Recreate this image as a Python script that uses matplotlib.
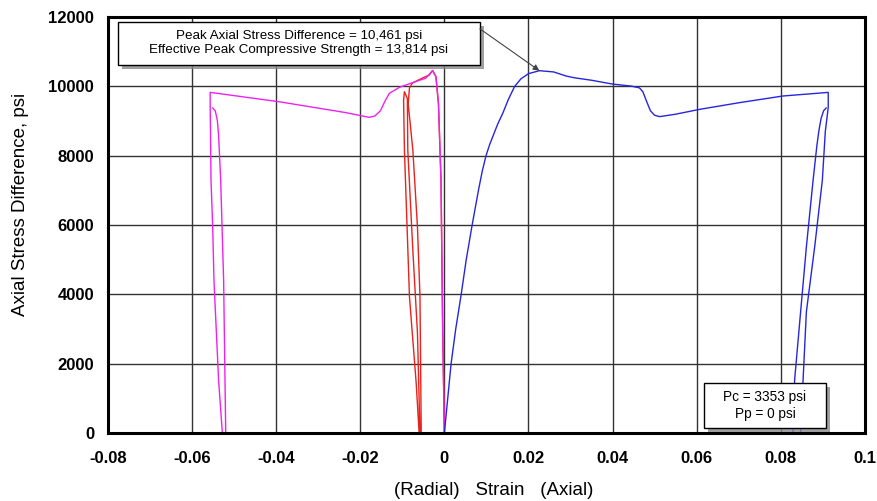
import matplotlib
matplotlib.use("Agg")
import matplotlib.pyplot as plt
import matplotlib.patheffects as pe
from matplotlib.patches import Rectangle

plt.rcParams['font.family'] = ['Liberation Sans', 'DejaVu Sans']

# axial strain (blue): load, plateau, unload/reload loop at the end
axial_strain = [0.0, 0.0008, 0.0016, 0.0027, 0.004, 0.0052, 0.0066, 0.0081, 0.0090,
                0.0099, 0.0107, 0.0115, 0.0127, 0.0139, 0.0152, 0.0167, 0.0182, 0.0200,
                0.0226, 0.026, 0.029, 0.031, 0.035, 0.040, 0.0445, 0.0464, 0.0472,
                0.0480, 0.0490, 0.0500, 0.0512, 0.055, 0.0607, 0.070, 0.0805, 0.0913,
                0.0913, 0.0906, 0.0899, 0.0881, 0.0861, 0.0847, 0.0770, 0.0829,
                0.0833, 0.0847, 0.0861, 0.0877, 0.0886, 0.0891, 0.0896, 0.0902, 0.0908]
axial_stress = [0, 1000, 2000, 3000, 4000, 5000, 6000, 7000, 7550,
                8000, 8300, 8550, 8920, 9230, 9620, 10000, 10220, 10370,
                10456, 10420, 10300, 10250, 10180, 10070, 10010, 9960, 9850,
                9600, 9300, 9170, 9130, 9200, 9340, 9530, 9725, 9830,
                9400, 8700, 7300, 5400, 3500, 0, 0, 0,
                1530, 3460, 5375, 7300, 8300, 8745, 9080, 9300, 9380]

# radial strain gauge 1 (magenta)
radial1_strain = [0.0, -0.0004, -0.0008, -0.0014, -0.002, -0.0028,
                  -0.0044, -0.0076, -0.0107, -0.0131, -0.0142, -0.0152, -0.0165, -0.0179,
                  -0.0234, -0.0393, -0.0557,
                  -0.0557, -0.0555, -0.0551, -0.0548, -0.0537, -0.0528, -0.052,
                  -0.0525, -0.0532, -0.0537, -0.0540, -0.0545, -0.0551]
radial1_stress = [0, 3000, 7300, 9500, 10280, 10461,
                  10240, 10110, 9975, 9800, 9560, 9300, 9150, 9110,
                  9245, 9560, 9830,
                  9500, 7300, 5955, 4415, 1530, 0, 0,
                  4415, 7300, 8600, 9030, 9300, 9380]

# radial strain gauge 2 (red)
radial2_strain = [0.0, -0.0004, -0.0008, -0.0014, -0.002, -0.0028,
                  -0.0036, -0.0052, -0.0076, -0.0083, -0.0086, -0.0075, -0.0064,
                  -0.0058, -0.0055, -0.006, -0.0067, -0.0083, -0.0095, -0.0097,
                  -0.0095, -0.0088, -0.0087, -0.0075, -0.0064, -0.0058]
radial2_stress = [0, 3000, 7300, 9500, 10280, 10461,
                  10330, 10245, 10100, 9955, 9500, 8170, 5950,
                  3930, 0, 0, 1440, 3930, 8170, 9600,
                  9850, 9650, 8170, 5280, 2890, 0]

peak_label = "Peak Axial Stress Difference = 10,461 psi\nEffective Peak Compressive Strength = 13,814 psi"
pressure_label = "Pc = 3353 psi\nPp = 0 psi"
x_ticks = [-0.08, -0.06, -0.04, -0.02, 0, 0.02, 0.04, 0.06, 0.08, 0.1]
x_ticklabels = ["-0.08", "-0.06", "-0.04", "-0.02", "0", "0.02", "0.04", "0.06", "0.08", "0.1"]
y_ticks = [0, 2000, 4000, 6000, 8000, 10000, 12000]
peak_point = (0.0226, 10456)

fig = plt.figure(figsize=(8.78, 5.01), dpi=100)
ax = fig.add_axes([0.123, 0.1357, 0.862, 0.830])

ax.plot(radial2_strain, radial2_stress, color='#e8221c', lw=1.0)
ax.plot(radial1_strain, radial1_stress, color='#ee22ee', lw=1.0)
ax.plot(axial_strain, axial_stress, color='#2626dd', lw=1.0)

ax.set_xlim(-0.08, 0.1)
ax.set_ylim(0, 12000)
ax.set_xticks(x_ticks)
ax.set_xticklabels(x_ticklabels)
ax.set_yticks(y_ticks)
ax.grid(True, color='#333333', lw=1.0)
ax.set_axisbelow(True)
for s in ax.spines.values():
    s.set_linewidth(2.2)
ax.tick_params(length=0, labelsize=12)
ax.tick_params(axis='x', pad=13)
ax.tick_params(axis='y', pad=10)
for lab in ax.get_xticklabels() + ax.get_yticklabels():
    lab.set_fontweight('bold')

ax.set_ylabel("Axial Stress Difference, psi", fontsize=13.5)
ax.set_xlabel("(Radial)   Strain   (Axial)", fontsize=13.5)
ax.yaxis.set_label_coords(-0.104, 0.55)
ax.xaxis.set_label_coords(0.51, -0.118)

shadow = [pe.withSimplePatchShadow(offset=(3, -3), shadow_rgbFace='#888888', alpha=0.8)]

# peak annotation box + arrow to the blue peak
box1 = Rectangle((0.0132, 0.885), 0.478, 0.103, transform=ax.transAxes,
                 fc='white', ec='black', lw=1, zorder=5)
box1.set_path_effects(shadow)
ax.add_patch(box1)
ax.text(0.2523, 0.9375, peak_label, transform=ax.transAxes, ha='center', va='center',
        fontsize=9.6, linespacing=1.2, zorder=6)
ax.annotate("", xy=peak_point, xycoords='data', xytext=(0.4914, 0.972),
            textcoords='axes fraction',
            arrowprops=dict(arrowstyle='-|>', color='#444444', lw=0.8,
                            mutation_scale=9, shrinkA=0, shrinkB=0), zorder=6)

# confining / pore pressure box
box2 = Rectangle((0.787, 0.012), 0.1615, 0.108, transform=ax.transAxes,
                 fc='white', ec='black', lw=1, zorder=5)
box2.set_path_effects(shadow)
ax.add_patch(box2)
ax.text(0.868, 0.0663, pressure_label, transform=ax.transAxes, ha='center', va='center',
        fontsize=9.8, linespacing=1.2, zorder=6)

fig.savefig("out.png", dpi=100)
